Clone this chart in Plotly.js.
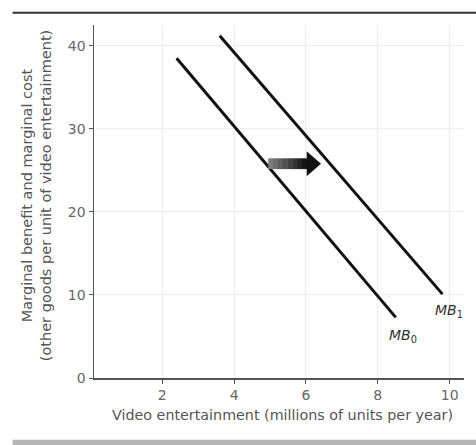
<!DOCTYPE html>
<html><head><meta charset="utf-8">
<script src="https://cdn.plot.ly/plotly-3.0.1.min.js"></script>
<style>html,body{margin:0;padding:0;background:#fff;}#c{width:476px;height:445px;}</style>
</head><body><div id="c"></div>
<script>
// Data
const mb0X = [2.4, 8.5];
const mb0Y = [38.5, 7.3];
const mb1X = [3.6, 9.8];
const mb1Y = [41.2, 10.1];
const xTicks = [2, 4, 6, 8, 10];
const yTicks = [0, 10, 20, 30, 40];
const shiftArrowX = [4.95, 6.42];
const shiftArrowY = 25.8;

const font = "DejaVu Sans, Arial, sans-serif";
const lineStyle = {color: '#111', width: 3};

const traces = [
  {x: mb0X, y: mb0Y, mode: 'lines', line: lineStyle, hoverinfo: 'skip'},
  {x: mb1X, y: mb1Y, mode: 'lines', line: lineStyle, hoverinfo: 'skip'}
];

// Arrow shapes (body with gradient, black head)
const shapes = [];
const bodyEnd = shiftArrowX[1] - 0.40;
const nSeg = 8;
for (let i = 0; i < nSeg; i++) {
  const x0 = shiftArrowX[0] + (bodyEnd - shiftArrowX[0]) * i / nSeg;
  const x1 = shiftArrowX[0] + (bodyEnd - shiftArrowX[0]) * (i + 1) / nSeg + 0.01;
  const g = Math.round(125 - 105 * i / (nSeg - 1));
  shapes.push({type: 'rect', xref: 'x', yref: 'y', x0: x0, x1: x1,
    y0: shiftArrowY - 0.65, y1: shiftArrowY + 0.65,
    fillcolor: `rgb(${g},${g},${g})`, line: {width: 0}, layer: 'above'});
}
shapes.push({type: 'path', xref: 'x', yref: 'y',
  path: `M ${bodyEnd} ${shiftArrowY - 1.5} L ${shiftArrowX[1]} ${shiftArrowY} L ${bodyEnd} ${shiftArrowY + 1.5} Z`,
  fillcolor: '#111', line: {width: 0}, layer: 'above'});
// Frame lines of the figure
shapes.push({type: 'line', xref: 'paper', yref: 'paper', x0: -0.22, x1: 1.04, y0: 1.035, y1: 1.035,
  line: {color: '#333', width: 2}});
shapes.push({type: 'rect', xref: 'paper', yref: 'paper', x0: -0.22, x1: 1.04, y0: -0.175, y1: -0.2,
  fillcolor: '#b5b5b5', line: {width: 0}});

const annotations = [
  {text: 'Video entertainment (millions of units per year)', xref: 'paper', yref: 'paper',
   x: 0.51, y: 0, yshift: -27, showarrow: false, xanchor: 'center', yanchor: 'top',
   font: {family: font, size: 14.3, color: '#555'}},
  {text: 'Marginal benefit and marginal cost<br>(other goods per unit of video entertainment)',
   xref: 'paper', yref: 'paper', x: 0, y: 0.515, xshift: -58, showarrow: false,
   textangle: -90, xanchor: 'center', yanchor: 'middle',
   font: {family: font, size: 14.5, color: '#555'}},
  {text: '<i>MB</i><sub>0</sub>', xref: 'x', yref: 'y', x: mb0X[1], y: mb0Y[1],
   xshift: 7, yshift: -19, showarrow: false, font: {family: font, size: 14, color: '#333'}},
  {text: '<i>MB</i><sub>1</sub>', xref: 'x', yref: 'y', x: mb1X[1], y: mb1Y[1],
   xshift: 7, yshift: -17, showarrow: false, font: {family: font, size: 14, color: '#333'}}
];

const layout = {
  width: 476, height: 445,
  margin: {l: 94, r: 12, t: 25, b: 67},
  paper_bgcolor: '#fff', plot_bgcolor: '#fff',
  showlegend: false,
  xaxis: {range: [0.1, 10.4], tickvals: xTicks, ticktext: xTicks.map(String),
    showgrid: true, gridcolor: '#eeeeee', gridwidth: 1, zeroline: false,
    showline: true, linecolor: '#555', linewidth: 1.5,
    ticks: 'outside', ticklen: 4, tickcolor: '#555',
    tickfont: {family: font, size: 14, color: '#666'}},
  yaxis: {range: [0, 42.5], tickvals: yTicks, ticktext: yTicks.map(String),
    showgrid: true, gridcolor: '#eeeeee', gridwidth: 1, zeroline: false,
    showline: true, linecolor: '#555', linewidth: 1.5,
    ticks: 'outside', ticklen: 4, tickcolor: '#555',
    tickfont: {family: font, size: 14, color: '#666'}},
  shapes: shapes,
  annotations: annotations
};

Plotly.newPlot('c', traces, layout, {staticPlot: true, displayModeBar: false});
</script></body></html>
